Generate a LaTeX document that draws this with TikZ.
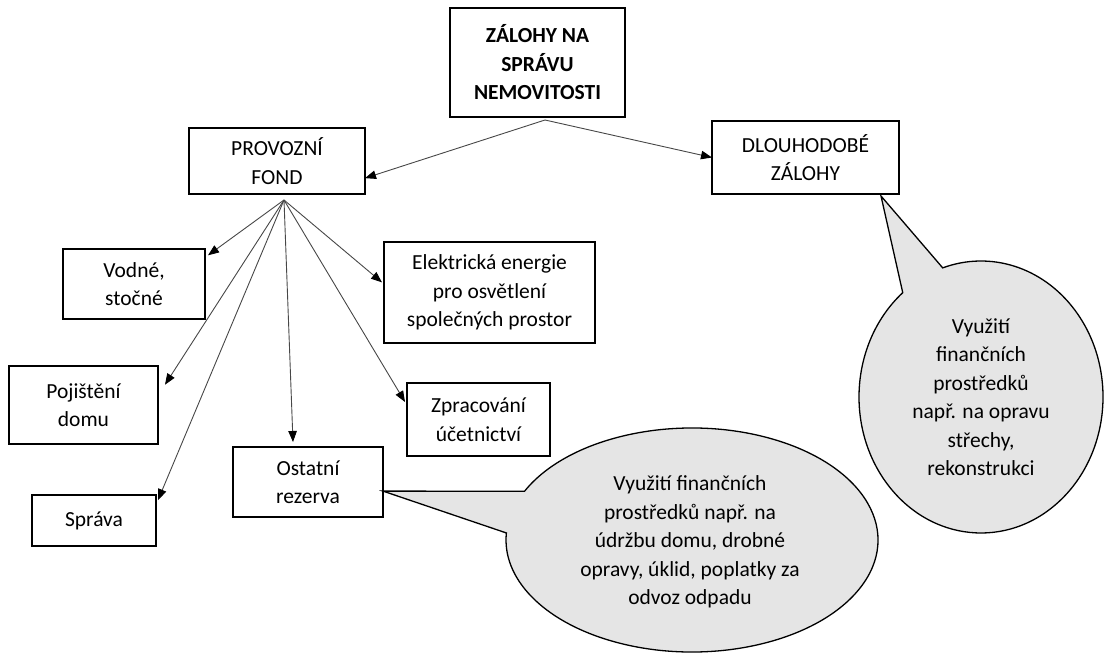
\documentclass[tikz,border=0pt]{standalone}
\usepackage{fontspec}
\setmainfont{Carlito}
\usetikzlibrary{arrows.meta,calc}

\begin{document}
\begin{tikzpicture}[
  x=1pt, y=1pt,
  every node/.style={font=\fontsize{21.5}{28.5}\selectfont},
  box/.style={draw=black, line width=1.3pt, fill=white, inner sep=0pt, outer sep=0pt,
              align=center},
  link/.style={draw=black!72, line width=0.9pt,
               -{Triangle[length=11pt,width=8.5pt,color=black]}},
  bubble/.style={draw=black, line width=1.3pt, fill=black!10, line join=miter},
  bubbletext/.style={align=center, inner sep=0pt}
]
\useasboundingbox (0,0) rectangle (1105,654);

% boxes
\node[box, minimum width=175pt, minimum height=109pt, font=\fontsize{21.5}{28.5}\selectfont\bfseries]
  (top) at (537.5,591.5) {ZÁLOHY NA\\SPRÁVU\\NEMOVITOSTI};
\node[box, minimum width=176pt, minimum height=66pt] (pf) at (277,493) {PROVOZNÍ\\FOND};
\node[box, minimum width=187pt, minimum height=73pt] (dz) at (805.5,496.5) {DLOUHODOBÉ\\ZÁLOHY};
\node[box, minimum width=142pt, minimum height=70pt] (vd) at (134,370) {Vodné,\\stočné};
\node[box, minimum width=149pt, minimum height=78pt] (pj) at (83.5,249) {Pojištění\\domu};
\node[box, minimum width=124pt, minimum height=51pt] (sp) at (94,133.5) {Správa};
\node[box, minimum width=150pt, minimum height=70pt] (os) at (308,172) {Ostatní\\rezerva};
\node[box, minimum width=143pt, minimum height=73pt] (zp) at (478.5,234.5) {Zpracování\\účetnictví};
\node[box, minimum width=211pt, minimum height=101pt] (el) at (489.5,361.5)
  {Elektrická energie\\pro osvětlení\\společných prostor};

% branch points
\coordinate (topfork) at ($(top.south)+(7.5,-3)$);
\coordinate (fan) at ($(pf.south)+(7,-6)$);

% connectors
\draw[link] (topfork) -- ($(pf.north east)!0.76!(pf.south east)$);
\draw[link] (topfork) -- (dz.west);
\draw[link] (fan) -- ([xshift=3pt]$(vd.north east)!0.09!(vd.south east)$);
\draw[link] (fan) -- ([xshift=7pt]$(pj.north east)!0.24!(pj.south east)$);
\draw[link] (fan) -- ([xshift=2pt]$(sp.north east)!0.1!(sp.south east)$);
\draw[link] (fan) -- ([yshift=5pt]$(os.north west)!0.4!(os.north east)$);
\draw[link] (fan) -- ([xshift=-2pt]$(zp.north west)!0.26!(zp.south west)$);
\draw[link] (fan) -- ([xshift=-2pt]$(el.north west)!0.4!(el.south west)$);

% callout for long-term advances
\coordinate (c1) at (981,257);
\coordinate (tip1) at ($(dz.south east)+(-18,-2)$);
\draw[bubble] (tip1) -- ([shift={(c1)}]129.9:122pt and 136pt)
  arc[start angle=129.9, end angle=468.3, x radius=122pt, y radius=136pt] -- cycle;
\node[bubbletext] (t1) at (981,257)
  {Využití\\finančních\\prostředků\\např. na opravu\\střechy,\\rekonstrukci};

% callout for the reserve
\coordinate (c2) at (692,114);
\coordinate (tip2) at ($(os.north east)!0.63!(os.south east)$);
\draw[bubble] (tip2) -- ([shift={(c2)}]154.2:186pt and 112pt)
  arc[start angle=154.2, end angle=-183.6, x radius=186pt, y radius=112pt] -- cycle;
\node[bubbletext] (t2) at (690,112)
  {Využití finančních\\prostředků např. na\\údržbu domu, drobné\\opravy, úklid, poplatky za\\odvoz odpadu};
\end{tikzpicture}
\end{document}
